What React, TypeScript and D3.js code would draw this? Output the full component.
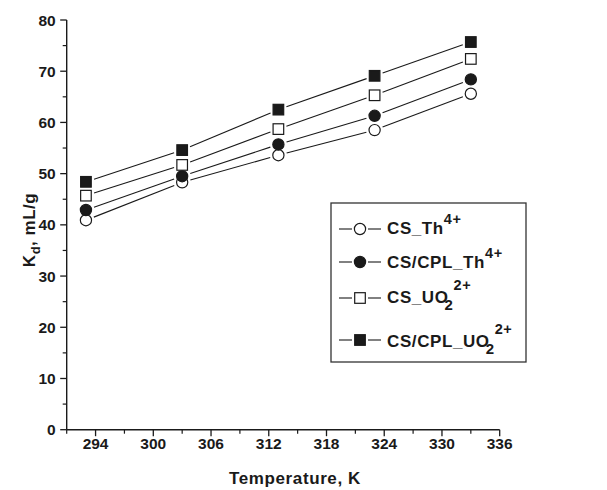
import React from "react";
import * as d3 from "d3";

// temperatures (K) and Kd values (mL/g)
const temps = [293, 303, 313, 323, 333];
const csTh = [40.9, 48.3, 53.6, 58.5, 65.6];
const cscplTh = [42.9, 49.5, 55.7, 61.3, 68.4];
const csUO2 = [45.7, 51.7, 58.7, 65.3, 72.4];
const cscplUO2 = [48.4, 54.6, 62.5, 69.1, 75.7];

const xMajor = [294, 300, 306, 312, 318, 324, 330, 336];
const yMajor = [0, 10, 20, 30, 40, 50, 60, 70, 80];

const ink = "#1a1a1a";
const font = "'Liberation Sans', Arial, Helvetica, sans-serif";

type Sym = "circleOpen" | "circleFilled" | "squareOpen" | "squareFilled";

const series: { name: string; values: number[]; sym: Sym }[] = [
  { name: "CS_Th", values: csTh, sym: "circleOpen" },
  { name: "CS/CPL_Th", values: cscplTh, sym: "circleFilled" },
  { name: "CS_UO2", values: csUO2, sym: "squareOpen" },
  { name: "CS/CPL_UO2", values: cscplUO2, sym: "squareFilled" },
];

function Marker({ x, y, sym }: { x: number; y: number; sym: Sym }) {
  const fill = sym.endsWith("Filled") ? ink : "#fff";
  if (sym.startsWith("circle"))
    return <circle cx={x} cy={y} r={5.6} fill={fill} stroke={ink} strokeWidth={1.2} />;
  return <rect x={x - 5.3} y={y - 5.3} width={10.6} height={10.6} fill={fill} stroke={ink} strokeWidth={1.2} />;
}

// segment between two points, trimmed so it stops short of the symbols
function gapSeg(x1: number, y1: number, x2: number, y2: number, gap: number) {
  const dx = x2 - x1, dy = y2 - y1;
  const len = Math.hypot(dx, dy);
  const ux = dx / len, uy = dy / len;
  return [x1 + ux * gap, y1 + uy * gap, x2 - ux * gap, y2 - uy * gap];
}

export default function App() {
  const width = 607, height = 490;
  const left = 66.7, right = 499.7, top = 20, bottom = 429.7;

  const x = d3.scaleLinear().domain([291, 336]).range([left, right]);
  const y = d3.scaleLinear().domain([0, 80]).range([bottom, top]);

  const xMinor = d3.range(291, 337, 3).filter(v => !xMajor.includes(v));
  const yMinor = d3.range(5, 80, 10);

  const legendRows = [
    { sym: "circleOpen" as Sym, cy: 229, base: 234, main: "CS_Th", sub: "", sup: "4+" },
    { sym: "circleFilled" as Sym, cy: 262, base: 268, main: "CS/CPL_Th", sub: "", sup: "4+" },
    { sym: "squareOpen" as Sym, cy: 298, base: 303, main: "CS_UO", sub: "2", sup: "2+" },
    { sym: "squareFilled" as Sym, cy: 340, base: 347, main: "CS/CPL_UO", sub: "2", sup: "2+" },
  ];

  return (
    <svg
      width={width}
      height={height}
      style={{ position: "absolute", left: 0, top: 0, background: "#fff" }}
      fontFamily={font}
      fontWeight="bold"
    >
      {/* series lines with gaps at the symbols */}
      {series.map(s =>
        s.values.slice(1).map((v, i) => {
          const [a, b, c, d] = gapSeg(x(temps[i]), y(s.values[i]), x(temps[i + 1]), y(v), 8.5);
          return <line key={s.name + i} x1={a} y1={b} x2={c} y2={d} stroke={ink} strokeWidth={1.1} />;
        })
      )}
      {series.map(s =>
        s.values.map((v, i) => <Marker key={s.name + "m" + i} x={x(temps[i])} y={y(v)} sym={s.sym} />)
      )}

      {/* axes */}
      <line x1={left} y1={top} x2={left} y2={bottom} stroke={ink} strokeWidth={1.4} />
      <line x1={left} y1={bottom} x2={right} y2={bottom} stroke={ink} strokeWidth={1.4} />
      {yMajor.map(v => (
        <g key={"y" + v}>
          <line x1={left - 6.5} x2={left} y1={y(v)} y2={y(v)} stroke={ink} strokeWidth={1.3} />
          <text x={left - 11} y={y(v) + 5.5} textAnchor="end" fontSize={15.5} fill={ink}>
            {v}
          </text>
        </g>
      ))}
      {yMinor.map(v => (
        <line key={"ym" + v} x1={left - 4} x2={left} y1={y(v)} y2={y(v)} stroke={ink} strokeWidth={1.2} />
      ))}
      {xMajor.map(v => (
        <g key={"x" + v}>
          <line x1={x(v)} x2={x(v)} y1={bottom} y2={bottom + 6.5} stroke={ink} strokeWidth={1.3} />
          <text x={x(v)} y={448.5} textAnchor="middle" fontSize={15.5} fill={ink}>
            {v}
          </text>
        </g>
      ))}
      {xMinor.map(v => (
        <line key={"xm" + v} x1={x(v)} x2={x(v)} y1={bottom} y2={bottom + 4} stroke={ink} strokeWidth={1.2} />
      ))}

      {/* axis titles */}
      <text x={295} y={484} textAnchor="middle" fontSize={17} letterSpacing={0.6} fill={ink}>
        Temperature, K
      </text>
      <text transform="translate(35,230) rotate(-90)" textAnchor="middle" fontSize={17} letterSpacing={0.5} fill={ink}>
        K<tspan fontSize={13} dy={5}>d</tspan>
        <tspan dy={-5}>, mL/g</tspan>
      </text>

      {/* legend */}
      <rect x={331} y={203} width={195} height={159} fill="#fff" stroke="#333" strokeWidth={1.3} />
      {legendRows.map(r => (
        <g key={r.main}>
          <line x1={339} x2={352} y1={r.cy} y2={r.cy} stroke={ink} strokeWidth={1.1} />
          <line x1={368} x2={381} y1={r.cy} y2={r.cy} stroke={ink} strokeWidth={1.1} />
          <Marker x={360} y={r.cy} sym={r.sym} />
          <text x={387} y={r.base} fontSize={17} letterSpacing={0.6} fill={ink}>
            {r.main}
            {r.sub ? (
              <>
                <tspan dx={-4} dy={7} fontSize={15}>{r.sub}</tspan>
                <tspan dy={-20} fontSize={14.5}>{r.sup}</tspan>
              </>
            ) : (
              <tspan dy={-10} fontSize={14.5}>{r.sup}</tspan>
            )}
          </text>
        </g>
      ))}
    </svg>
  );
}
